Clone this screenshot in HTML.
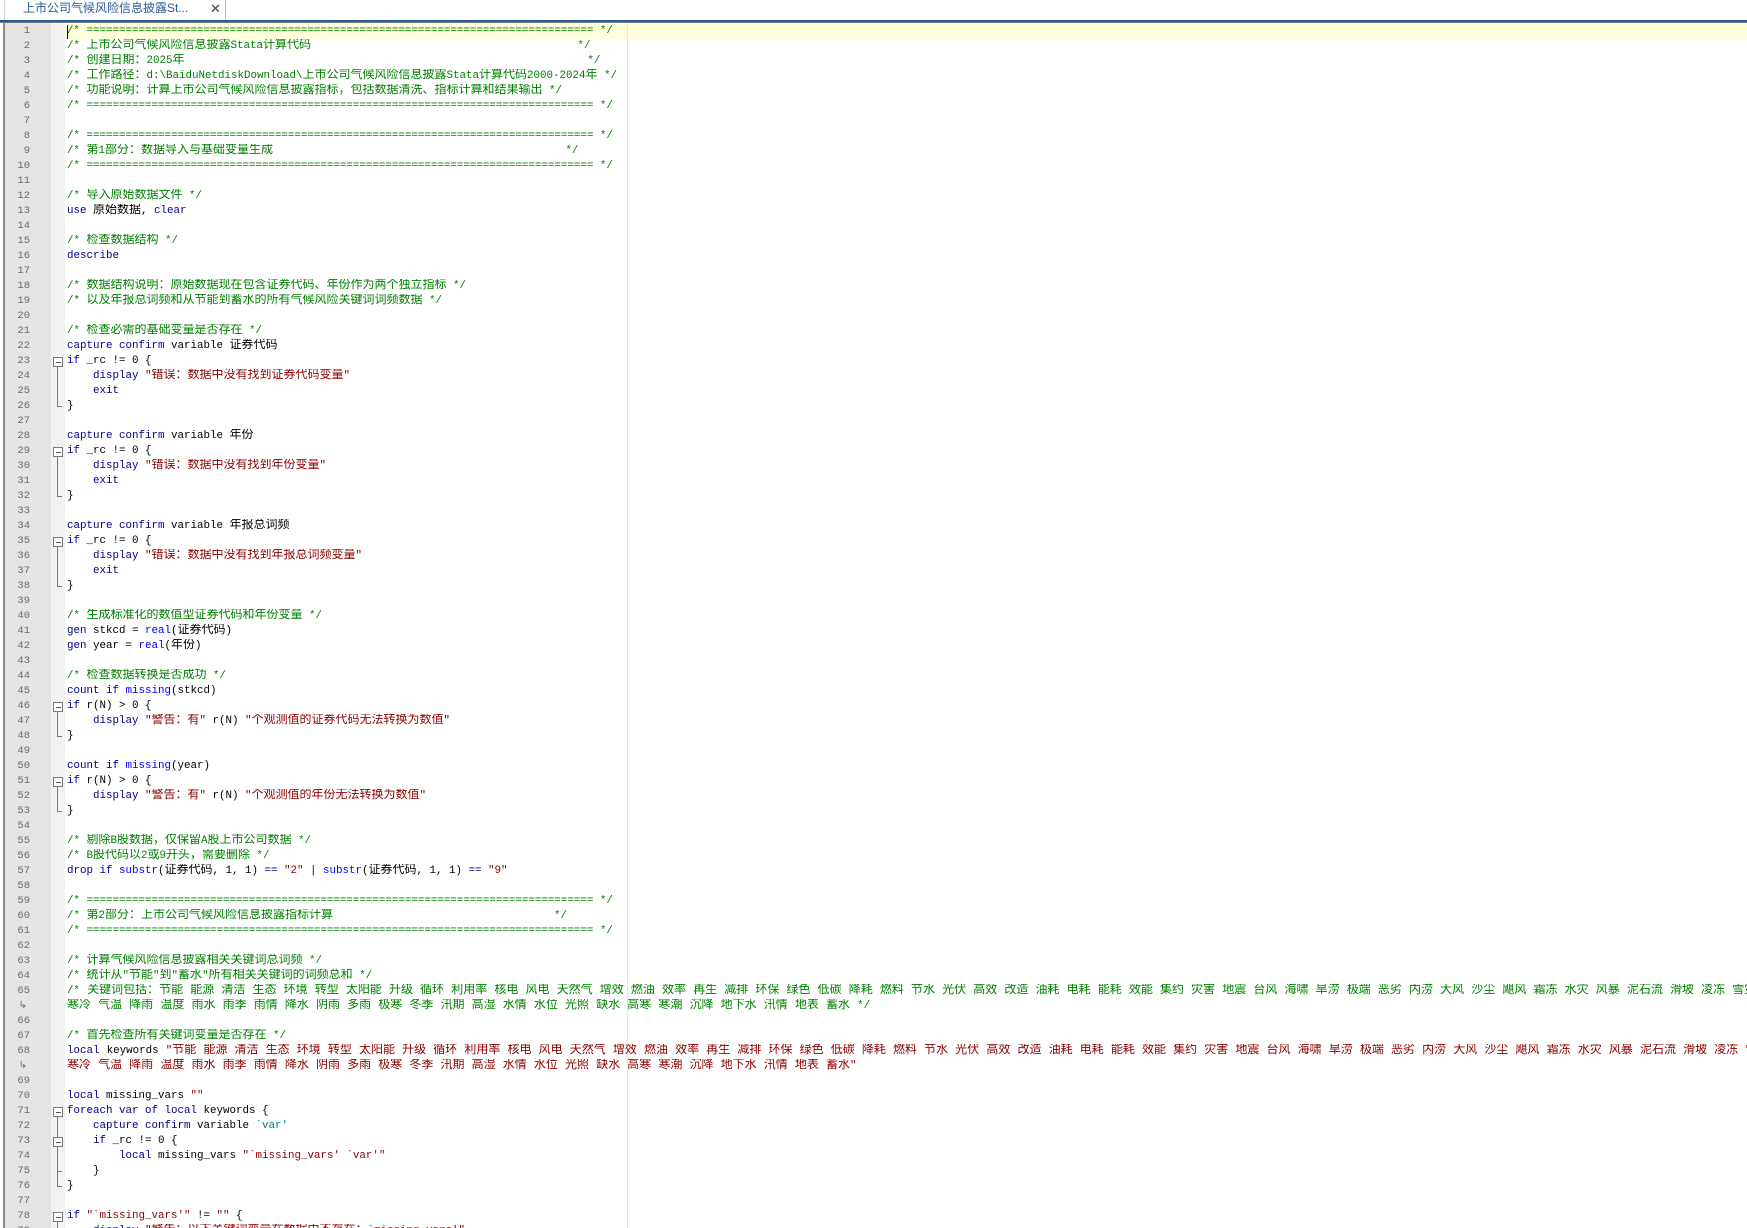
<!DOCTYPE html>
<html><head><meta charset="utf-8">
<style>
html,body{margin:0;padding:0;width:1747px;height:1228px;overflow:hidden;background:#fff;position:relative}
#tabbar{position:absolute;left:0;top:0;width:1747px;height:20px;background:#fff}
#tab{position:absolute;left:4px;top:0;width:220px;height:20px;border-right:1px solid #b8b8b8;border-left:1px solid #d0d0d0;background:#fff;font:12px "Liberation Sans","Noto Sans CJK SC",sans-serif;color:#2a5a9a;line-height:17px}
#tab span{position:absolute;left:18px;top:0}
#tab b{position:absolute;left:205px;top:0;font-weight:normal;color:#444;font-size:13px}
#bl{position:absolute;left:0;top:20px;width:1747px;height:2px;background:#1f5f9f}
#gl{position:absolute;left:0;top:22px;width:1747px;height:1px;background:#7a7a7a}
#lb{position:absolute;left:3px;top:22px;width:2px;height:1206px;background:#8a8a8a}
#gut{position:absolute;left:5px;top:23px;width:46px;height:1205px;background:#e4e4e4}
#fold{position:absolute;left:51px;top:23px;width:14px;height:1205px;background:#f2f2f2}
#hl{position:absolute;left:65px;top:24px;width:1682px;height:15px;background:#ffffdc}
#edge{position:absolute;left:627px;top:23px;width:1px;height:1205px;background:#e6e6e6}
#caret{position:absolute;left:67px;top:25px;width:1px;height:14px;background:#000}
.r{position:absolute;left:67px;height:15px;line-height:15px;white-space:pre;font-family:"Liberation Mono",monospace;font-size:10.83px;color:#000;width:1680px;overflow:hidden}
.r.w{word-spacing:0.6px}
.n{position:absolute;left:5px;width:25px;text-align:right;height:15px;line-height:15px;font-family:"Liberation Mono",monospace;font-size:10.5px;color:#6a6a6a}
.cj{font-family:"Noto Sans CJK SC",sans-serif;font-size:12px;line-height:1px;vertical-align:baseline}
.c{color:#008000}.k{color:#00008b}.f{color:#0000ff}.s{color:#8b0000}.t{color:#008080}
.fb{position:absolute;left:53px;width:8px;height:8px;border:1px solid #7a7a7a;background:#fff}
.fb:after{content:"";position:absolute;left:2px;top:4px;width:5px;height:1px;background:#555}
.fv{position:absolute;left:57px;width:1px;background:#7a7a7a}
.fh{position:absolute;left:57px;width:5px;height:1px;background:#7a7a7a}
</style></head><body>
<div id="tabbar"><div id="tab"><span>上市公司气候风险信息披露St...</span><b>✕</b></div></div>
<div id="bl"></div><div id="gl"></div>
<div id="gut"></div><div id="fold"></div><div id="lb"></div>
<div id="hl"></div><div id="edge"></div>
<div id="code"></div>
<div id="caret"></div>
<script>
var EQ="/* "+"=".repeat(78)+" */";
function sp(n){return " ".repeat(n);}
var KW1="节能 能源 清洁 生态 环境 转型 太阳能 升级 循环 利用率 核电 风电 天然气 增效 燃油 效率 再生 减排 环保 绿色 低碳 降耗 燃料 节水 光伏 高效 改造 油耗 电耗 能耗 效能 集约 灾害 地震 台风 海啸 旱涝 极端 恶劣 内涝 大风 沙尘 飓风 霜冻 水灾 风暴 泥石流 滑坡 凌冻 雪灾 冰雹 干旱";
var KW2="寒冷 气温 降雨 温度 雨水 雨季 雨情 降水 阴雨 多雨 极寒 冬季 汛期 高湿 水情 水位 光照 缺水 高寒 寒潮 沉降 地下水 汛情 地表 蓄水";
function C(t){return '<span class="c">'+t+'</span>';}
function K(t){return '<span class="k">'+t+'</span>';}
function F(t){return '<span class="f">'+t+'</span>';}
function S(t){return '<span class="s">'+t+'</span>';}
var rows=[
[1,C(EQ)],
[2,C("/* 上市公司气候风险信息披露Stata计算代码"+sp(41)+"*/")],
[3,C("/* 创建日期：2025年"+sp(62)+"*/")],
[4,C("/* 工作路径：d:\\BaiduNetdiskDownload\\上市公司气候风险信息披露Stata计算代码2000-2024年 */")],
[5,C("/* 功能说明：计算上市公司气候风险信息披露指标，包括数据清洗、指标计算和结果输出 */")],
[6,C(EQ)],
[7,""],
[8,C(EQ)],
[9,C("/* 第1部分：数据导入与基础变量生成"+sp(45)+"*/")],
[10,C(EQ)],
[11,""],
[12,C("/* 导入原始数据文件 */")],
[13,K("use")+" 原始数据, "+K("clear")],
[14,""],
[15,C("/* 检查数据结构 */")],
[16,K("describe")],
[17,""],
[18,C("/* 数据结构说明：原始数据现在包含证券代码、年份作为两个独立指标 */")],
[19,C("/* 以及年报总词频和从节能到蓄水的所有气候风险关键词词频数据 */")],
[20,""],
[21,C("/* 检查必需的基础变量是否存在 */")],
[22,K("capture confirm")+" variable 证券代码"],
[23,K("if")+" _rc != 0 {"],
[24,"    "+K("display")+" "+S('"错误：数据中没有找到证券代码变量"')],
[25,"    "+K("exit")],
[26,"}"],
[27,""],
[28,K("capture confirm")+" variable 年份"],
[29,K("if")+" _rc != 0 {"],
[30,"    "+K("display")+" "+S('"错误：数据中没有找到年份变量"')],
[31,"    "+K("exit")],
[32,"}"],
[33,""],
[34,K("capture confirm")+" variable 年报总词频"],
[35,K("if")+" _rc != 0 {"],
[36,"    "+K("display")+" "+S('"错误：数据中没有找到年报总词频变量"')],
[37,"    "+K("exit")],
[38,"}"],
[39,""],
[40,C("/* 生成标准化的数值型证券代码和年份变量 */")],
[41,K("gen")+" stkcd = "+F("real")+"(证券代码)"],
[42,K("gen")+" year = "+F("real")+"(年份)"],
[43,""],
[44,C("/* 检查数据转换是否成功 */")],
[45,K("count if")+" "+F("missing")+"(stkcd)"],
[46,K("if")+" r(N) > 0 {"],
[47,"    "+K("display")+" "+S('"警告：有"')+" r(N) "+S('"个观测值的证券代码无法转换为数值"')],
[48,"}"],
[49,""],
[50,K("count if")+" "+F("missing")+"(year)"],
[51,K("if")+" r(N) > 0 {"],
[52,"    "+K("display")+" "+S('"警告：有"')+" r(N) "+S('"个观测值的年份无法转换为数值"')],
[53,"}"],
[54,""],
[55,C("/* 剔除B股数据，仅保留A股上市公司数据 */")],
[56,C("/* B股代码以2或9开头，需要删除 */")],
[57,K("drop if")+" "+F("substr")+"(证券代码, 1, 1) "+K("==")+" "+S('"2"')+" "+K("|")+" "+F("substr")+"(证券代码, 1, 1) "+K("==")+" "+S('"9"')],
[58,""],
[59,C(EQ)],
[60,C("/* 第2部分：上市公司气候风险信息披露指标计算"+sp(34)+"*/")],
[61,C(EQ)],
[62,""],
[63,C("/* 计算气候风险信息披露相关关键词总词频 */")],
[64,C('/* 统计从"节能"到"蓄水"所有相关关键词的词频总和 */')],
[65,C("/* 关键词包括："+KW1),1],
["w",C(KW2+" */"),1],
[66,""],
[67,C("/* 首先检查所有关键词变量是否存在 */")],
[68,K("local")+" keywords "+S('"'+KW1),1],
["w",S(KW2+'"'),1],
[69,""],
[70,K("local")+" missing_vars "+S('""')],
[71,K("foreach var of local")+" keywords {"],
[72,"    "+K("capture confirm")+" variable "+'<span class="t">`var\'</span>'],
[73,"    "+K("if")+" _rc != 0 {"],
[74,"        "+K("local")+" missing_vars "+S('"`missing_vars\' `var\'"')],
[75,"    }"],
[76,"}"],
[77,""],
[78,K("if")+" "+S('"`missing_vars\'"')+" != "+S('""')+" {"],
[79,"    "+K("display")+" "+S('"警告：以下关键词变量在数据中不存在：`missing_vars\'"')]
];
var re=/([\u3000-\u303f\u4e00-\u9fff\uff00-\uffef]+)/g;
function cj(h){
  return h.split(/(<[^>]+>)/).map(function(p){return p.charAt(0)=="<"?p:p.replace(re,'<span class="cj">$1</span>');}).join("");
}
var T0=24;
var out="",rowOf={};
for(var i=0;i<rows.length;i++){
  var y=T0+i*15;
  var ln=rows[i][0];
  if(ln!=="w"){rowOf[ln]=i;out+='<div class="n" style="top:'+y+'px">'+ln+'</div>';}
  else out+='<div class="n" style="top:'+y+'px;width:22px;font-size:10px">↳</div>';
  out+='<div class="r'+(rows[i][2]?' w':'')+'" style="top:'+y+'px">'+cj(rows[i][1])+'</div>';
}
function fold(a,b){
  var ya=T0+rowOf[a]*15, yb=T0+rowOf[b]*15;
  out+='<div class="fb" style="top:'+(ya+3)+'px"></div>';
  out+='<div class="fv" style="top:'+(ya+13)+'px;height:'+(yb+7-(ya+13))+'px"></div>';
  out+='<div class="fh" style="top:'+(yb+7)+'px"></div>';
}
fold(23,26);fold(29,32);fold(35,38);fold(46,48);fold(51,53);fold(71,76);fold(73,75);
var y78=T0+rowOf[78]*15;
out+='<div class="fb" style="top:'+(y78+3)+'px"></div>';
out+='<div class="fv" style="top:'+(y78+13)+'px;height:40px"></div>';
document.getElementById("code").innerHTML=out;
</script>
</body></html>
